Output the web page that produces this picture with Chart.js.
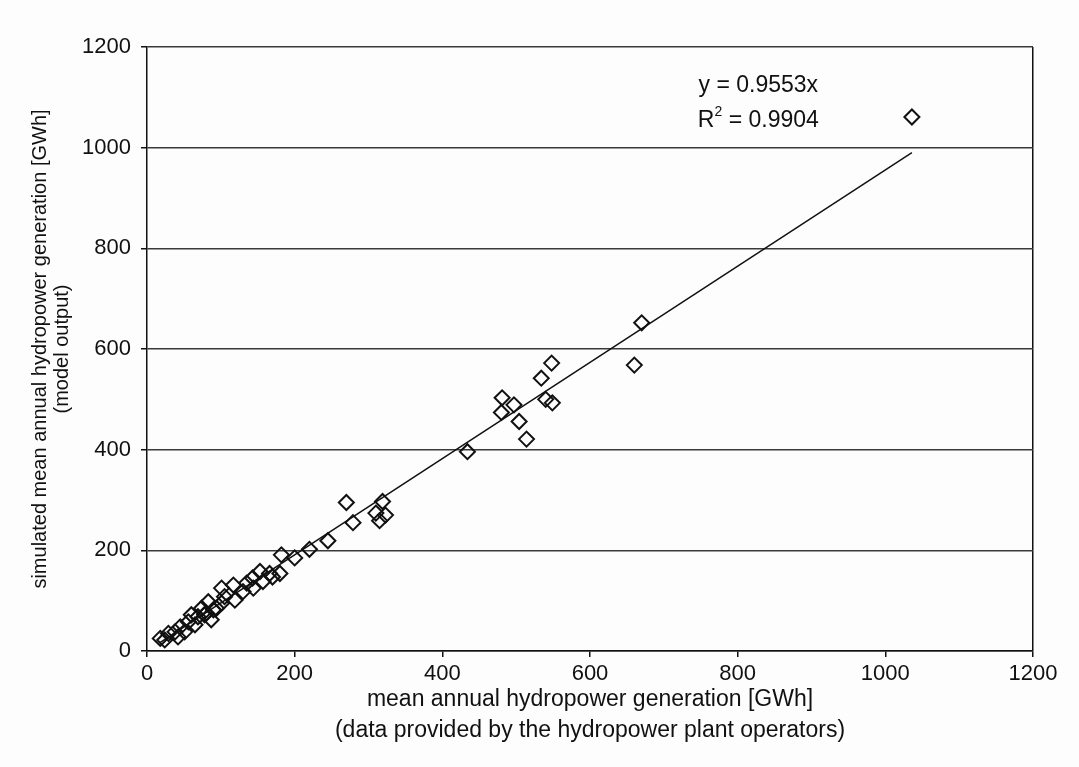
<!DOCTYPE html>
<html>
<head>
<meta charset="utf-8">
<script src="https://cdn.jsdelivr.net/npm/chart.js@4"></script>
<style>
  html, body { margin: 0; padding: 0; background: #fdfdfd; }
  #wrap { width: 1079px; height: 767px; }
</style>
</head>
<body>
<div id="wrap"><canvas id="scatterChart" width="1079" height="767"></canvas></div>
<script>
// observed (plant operators) vs simulated mean annual generation, GWh
const observed = [18, 24, 29, 38, 42, 45, 51, 56, 60, 65, 69, 74, 78, 80, 83, 87, 90, 94, 101, 101,
                  105, 117, 119, 130, 135, 143, 144, 153, 157, 166, 170, 180, 182, 200, 220, 245,
                  270, 279, 310, 315, 319, 323, 434, 480, 481, 497, 504, 514, 534, 540, 548, 549,
                  660, 670, 1036];
const simulated = [25, 22, 35, 38, 28, 48, 38, 58, 72, 52, 68, 85, 72, 75, 98, 62, 82, 85, 95, 125,
                   108, 131, 101, 118, 135, 145, 125, 158, 138, 154, 147, 154, 191, 185, 202, 219,
                   295, 255, 274, 259, 297, 270, 396, 474, 503, 489, 456, 421, 542, 500, 572, 493,
                   568, 652, 1061];

// linear fit through origin, end points
const trendX = [17, 1036];
const trendY = [16, 990];

const axisTicks = [0, 200, 400, 600, 800, 1000, 1200];

const ink = '#111';
const fontFamily = '"Liberation Sans", Arial, sans-serif';

const points = observed.map((x, i) => ({ x: x, y: simulated[i] }));
const trend = trendX.map((x, i) => ({ x: x, y: trendY[i] }));

// regression equation text in the upper right
const equationLabel = {
    id: 'equationLabel',
    afterDraw(chart) {
        const ctx = chart.ctx;
        const xs = chart.scales.x;
        const ys = chart.scales.y;
        const cx = xs.getPixelForValue(828);
        ctx.save();
        ctx.fillStyle = ink;
        ctx.textBaseline = 'middle';
        ctx.font = '23px ' + fontFamily;
        ctx.textAlign = 'center';
        ctx.fillText('y = 0.9553x', cx, ys.getPixelForValue(1123));

        // R² with a small raised 2
        const rowY = ys.getPixelForValue(1053);
        const a = 'R', b = '2', c = ' = 0.9904';
        ctx.font = '23px ' + fontFamily;
        const wa = ctx.measureText(a).width;
        const wc = ctx.measureText(c).width;
        ctx.font = '14px ' + fontFamily;
        const wb = ctx.measureText(b).width;
        let left = cx - (wa + wb + wc) / 2;
        ctx.textAlign = 'left';
        ctx.font = '23px ' + fontFamily;
        ctx.fillText(a, left, rowY);
        ctx.font = '14px ' + fontFamily;
        ctx.fillText(b, left + wa, rowY - 9);
        ctx.font = '23px ' + fontFamily;
        ctx.fillText(c, left + wa + wb, rowY);
        ctx.restore();
    }
};

new Chart(document.getElementById('scatterChart'), {
    type: 'scatter',
    data: {
        datasets: [{
            label: 'plants',
            data: points,
            pointStyle: 'rectRot',
            pointRadius: 7.5,
            pointHoverRadius: 7.5,
            pointBorderWidth: 2,
            pointBorderColor: ink,
            pointBackgroundColor: 'rgba(0,0,0,0)'
        }, {
            type: 'line',
            label: 'fit',
            data: trend,
            borderColor: ink,
            borderWidth: 1.5,
            pointRadius: 0,
            fill: false
        }]
    },
    plugins: [equationLabel],
    options: {
        responsive: false,
        animation: false,
        layout: { padding: { top: 47, right: 46, left: 0, bottom: 0 } },
        plugins: {
            legend: { display: false },
            tooltip: { enabled: false }
        },
        scales: {
            x: {
                type: 'linear',
                min: 0,
                max: 1200,
                afterBuildTicks: scale => { scale.ticks = axisTicks.map(v => ({ value: v })); },
                afterFit: scale => { scale.height = 116; },
                ticks: {
                    color: ink,
                    font: { family: fontFamily, size: 22 },
                    padding: 4,
                    maxRotation: 0,
                    callback: v => String(v)
                },
                grid: {
                    color: c => c.tick && c.tick.value === 1200 ? ink : 'rgba(0,0,0,0)',
                    lineWidth: 1.5,
                    tickColor: ink,
                    tickLength: 6
                },
                border: { color: ink, width: 1.5 },
                title: {
                    display: true,
                    text: ['mean annual hydropower generation [GWh]', '(data provided by the hydropower plant operators)'],
                    color: ink,
                    font: { family: fontFamily, size: 23, lineHeight: 1.33 },
                    padding: { top: 0, bottom: 21 }
                }
            },
            y: {
                type: 'linear',
                min: 0,
                max: 1200,
                afterBuildTicks: scale => { scale.ticks = axisTicks.map(v => ({ value: v })); },
                afterFit: scale => { scale.width = 147; },
                ticks: {
                    color: ink,
                    font: { family: fontFamily, size: 22 },
                    padding: 10,
                    callback: v => String(v)
                },
                grid: {
                    color: '#3a3a3a',
                    lineWidth: 1.5,
                    tickColor: ink,
                    tickLength: 6
                },
                border: { color: ink, width: 1.5 },
                title: {
                    display: true,
                    text: ['simulated mean annual hydropower generation [GWh]', '(model output)'],
                    color: ink,
                    font: { family: fontFamily, size: 20, lineHeight: 1.1 },
                    padding: { top: 29, bottom: 0 }
                }
            }
        }
    }
});
</script>
</body>
</html>
